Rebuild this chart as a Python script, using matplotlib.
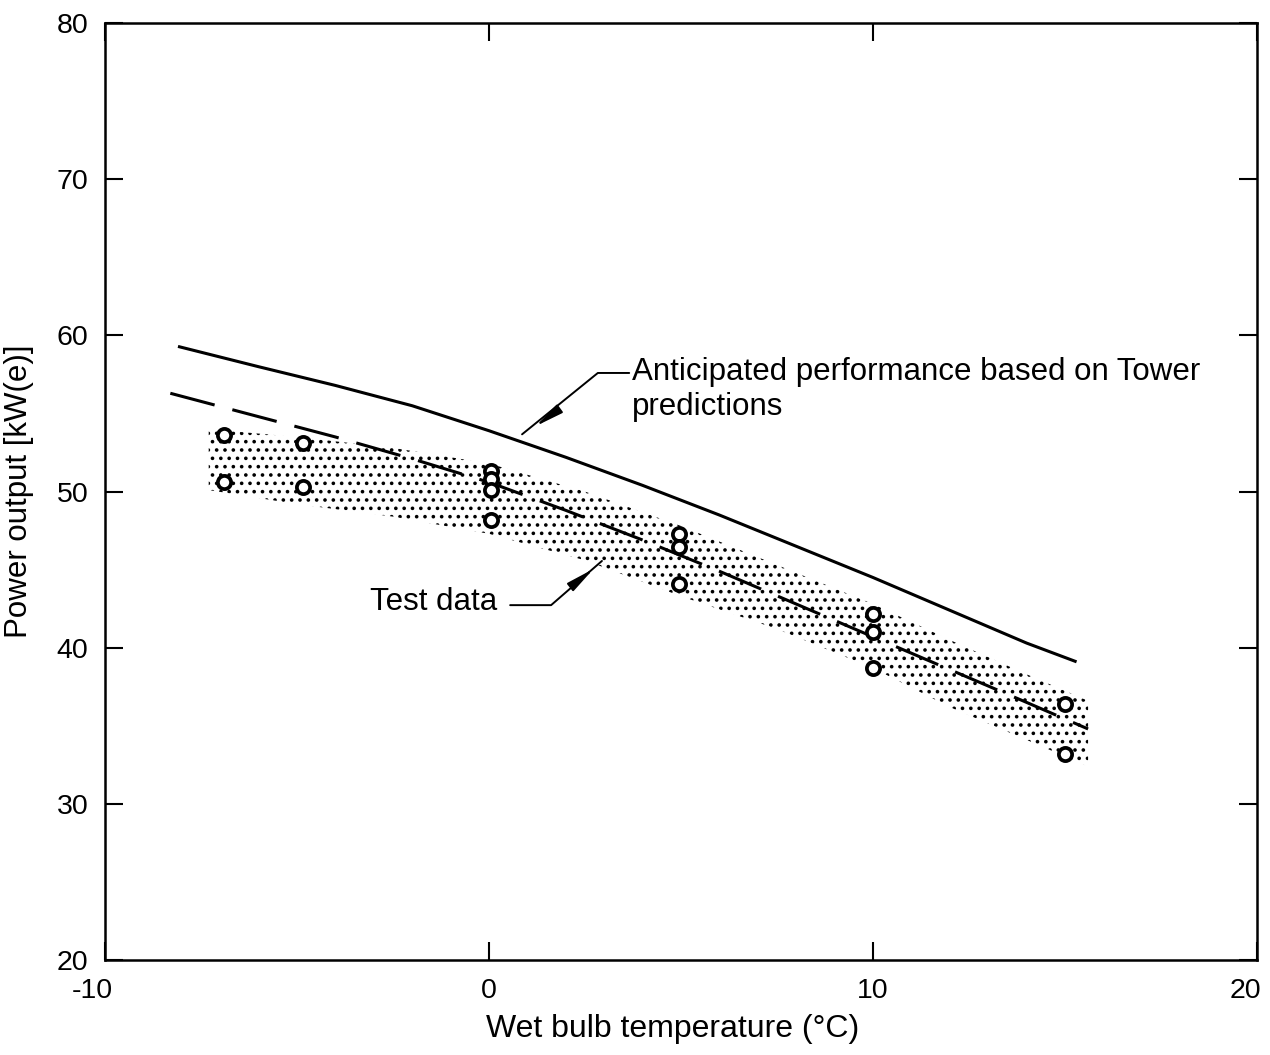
import matplotlib
matplotlib.use("Agg")
import matplotlib.pyplot as plt
import matplotlib.transforms as mtransforms
import numpy as np

plt.rcParams['font.family'] = ['Liberation Sans', 'DejaVu Sans']
plt.rcParams['hatch.linewidth'] = 1.4

# Anticipated performance (solid line)
pred_x = [-8.1, -6, -4, -2, 0, 2, 4, 6, 8, 10, 12, 14, 15.3]
pred_y = [59.3, 58.0, 56.8, 55.5, 53.9, 52.2, 50.4, 48.5, 46.5, 44.5, 42.4, 40.3, 39.1]

# Test data fit (dashed line)
fit_x = [-8.3, -6, -4, -2, 0, 2, 4, 6, 8, 10, 12, 14, 15.6]
fit_y = [56.3, 54.8, 53.5, 52.1, 50.6, 48.8, 46.9, 44.9, 42.8, 40.7, 38.6, 36.5, 34.8]

# Test data band (stippled)
band_x = [-7.3, -5, -2.5, 0, 2.5, 5, 7.5, 10, 12, 14, 15.6]
band_hi = [54.0, 53.5, 52.8, 51.8, 50.0, 47.8, 45.3, 42.8, 40.5, 38.3, 36.6]
band_lo = [50.1, 49.2, 48.4, 47.3, 45.6, 43.3, 41.2, 38.7, 36.2, 34.1, 32.4]

# Test data points
pts_x = [-6.9, -6.9, -4.85, -4.85, 0.05, 0.05, 0.05, 0.05, 4.95, 4.95, 4.95, 10, 10, 10, 15, 15]
pts_y = [53.6, 50.6, 53.1, 50.3, 51.3, 50.8, 50.1, 48.2, 47.3, 46.45, 44.1, 42.15, 41.0, 38.7, 36.4, 33.2]

xticks = [-10, 0, 10, 20]
yticks = [20, 30, 40, 50, 60, 70, 80]

fig = plt.figure(figsize=(12.7, 10.55), dpi=100)
ax = fig.add_axes([0.0827, 0.090, 0.9071, 0.888])

ax.fill_between(band_x, band_lo, band_hi, facecolor='none', edgecolor='black',
                hatch='..', linewidth=0)
ax.plot(pred_x, pred_y, color='black', lw=2.2, solid_capstyle='butt')
ax.plot(fit_x, fit_y, color='black', lw=2.2, dashes=(15, 6), dash_capstyle='butt')
ax.plot(pts_x, pts_y, linestyle='none', marker='o', ms=9.5, mfc='white', mec='black', mew=2.7)

ax.set_xlim(-10, 20)
ax.set_ylim(20, 80)
ax.set_xticks(xticks)
ax.set_yticks(yticks)
ax.set_xticklabels([str(v) for v in xticks])
ax.set_yticklabels([str(v) for v in yticks])
ax.tick_params(direction='in', length=13, width=1.5, top=True, right=True,
               labelsize=20.5, colors='black')
ax.tick_params(axis='x', pad=13)
ax.tick_params(axis='y', pad=12)
for s in ax.spines.values():
    s.set_linewidth(1.8)

# nudge the end tick labels inward as in the reference
xlabels = ax.get_xticklabels()
shift_first = mtransforms.ScaledTranslation(-9 / 72, 0, fig.dpi_scale_trans)
shift_last = mtransforms.ScaledTranslation(-8 / 72, 0, fig.dpi_scale_trans)
xlabels[0].set_transform(xlabels[0].get_transform() + shift_first)
xlabels[-1].set_transform(xlabels[-1].get_transform() + shift_last)

ax.set_xlabel('Wet bulb temperature (°C)', fontsize=23)
ax.xaxis.set_label_coords(0.493, -0.058)
ax.set_ylabel('Power output [kW(e)]', fontsize=22.5)
ax.yaxis.set_label_coords(-0.062, 0.50)

# Annotation: anticipated performance
ax.text(3.72, 56.55, 'Anticipated performance based on Tower\npredictions',
        fontsize=22.5, ha='left', va='center', linespacing=1.2)
ax.annotate('', xy=(0.86, 53.67), xytext=(3.65, 57.6),
            arrowprops=dict(arrowstyle='-', lw=1.4, color='black',
                            connectionstyle='angle,angleA=0,angleB=39,rad=0',
                            shrinkA=0, shrinkB=0))
ax.annotate('', xy=(1.22, 54.2), xytext=(1.75, 55.15),
            arrowprops=dict(arrowstyle='-|>,head_length=1.7,head_width=0.3',
                            lw=1.4, color='black', shrinkA=0, shrinkB=0))

# Annotation: test data
ax.text(0.22, 42.93, 'Test data', fontsize=22.5, ha='right', va='center')
ax.annotate('', xy=(2.94, 45.56), xytext=(0.55, 42.73),
            arrowprops=dict(arrowstyle='-', lw=1.4, color='black',
                            connectionstyle='angle,angleA=0,angleB=41,rad=0',
                            shrinkA=0, shrinkB=0))
ax.annotate('', xy=(2.72, 45.05), xytext=(2.15, 43.95),
            arrowprops=dict(arrowstyle='-|>,head_length=1.7,head_width=0.3',
                            lw=1.4, color='black', shrinkA=0, shrinkB=0))

fig.savefig('out.png', dpi=100)
